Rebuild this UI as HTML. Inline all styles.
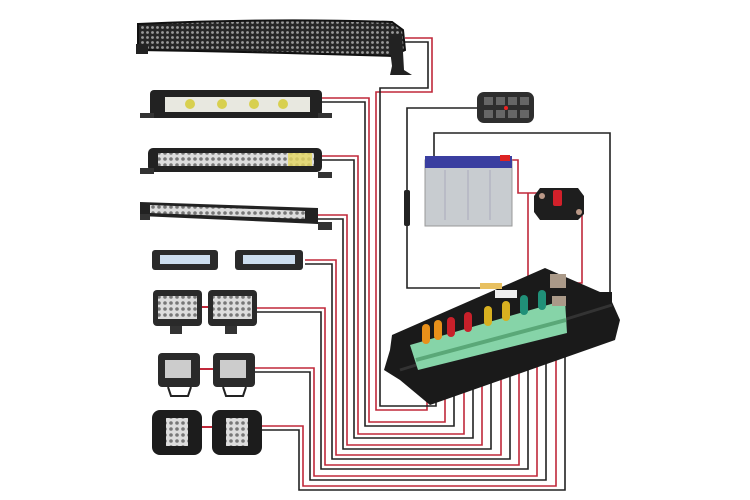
<!DOCTYPE html>
<html><head><meta charset="utf-8"><style>html,body{margin:0;padding:0;background:#fff}svg{display:block}</style></head>
<body>
<svg width="750" height="500" viewBox="0 0 750 500" xmlns="http://www.w3.org/2000/svg">
<defs>
<pattern id="led" width="5" height="5" patternUnits="userSpaceOnUse"><rect width="5" height="5" fill="#262626"/><circle cx="2.5" cy="2.5" r="1.4" fill="#9a9a9a"/></pattern>
<pattern id="led2" width="6" height="6" patternUnits="userSpaceOnUse"><rect width="6" height="6" fill="#ddd"/><circle cx="3" cy="3" r="1.8" fill="#777"/></pattern>
</defs>
<g fill="none" stroke-width="1.6">
<path d="M405 38 H432 V92 H376 V410 H427 V366" stroke="#c0283a"/>
<path d="M405 42 H428 V88 H380 V406 H436 V364" stroke="#222"/>
<path d="M322 98 H369 V422 H445 V362" stroke="#c0283a"/>
<path d="M322 102 H365 V426 H454 V360" stroke="#222"/>
<path d="M320 156 H358 V434 H464 V357" stroke="#c0283a"/>
<path d="M320 160 H354 V438 H473 V355" stroke="#222"/>
<path d="M318 215 H347 V445 H482 V353" stroke="#c0283a"/>
<path d="M318 219 H343 V449 H491 V351" stroke="#222"/>
<path d="M305 260 H336 V455 H501 V349" stroke="#c0283a"/>
<path d="M305 264 H332 V459 H510 V346" stroke="#222"/>
<path d="M257 308 H325 V465 H519 V344" stroke="#c0283a"/>
<path d="M257 312 H321 V469 H528 V342" stroke="#222"/>
<path d="M255 368 H314 V476 H537 V340" stroke="#c0283a"/>
<path d="M255 372 H310 V480 H546 V338" stroke="#222"/>
<path d="M262 426 H303 V486 H556 V335" stroke="#c0283a"/>
<path d="M262 430 H299 V490 H565 V333" stroke="#222"/>
<path d="M202 307 H208 M200 369 H213 M202 427 H212" stroke="#c0283a" stroke-width="2"/>
<path d="M477 108 H407 V288 H482" stroke="#222"/>
<path d="M434 156 V133 H610 V297 H572" stroke="#222"/>
<path d="M506 160 H518 V193 H540" stroke="#c0283a"/>
<path d="M528 193 V290 H520" stroke="#c0283a"/>
<path d="M582 213 V283 H565" stroke="#c0283a"/>
</g>
<rect x="404" y="190" width="6" height="36" rx="2" fill="#222"/>
<path d="M138 24 Q270 18 392 22 L403 30 L405 50 L392 56 Q270 52 138 50 Z" fill="url(#led)" stroke="#111" stroke-width="2"/>
<rect x="136" y="44" width="12" height="10" fill="#222"/>
<path d="M388 34 L402 34 L404 70 L412 75 L390 75 L392 66 Z" fill="#222"/>
<rect x="150" y="90" width="172" height="28" rx="4" fill="#222"/>
<rect x="165" y="97" width="145" height="15" fill="#e8e8e0"/>
<g fill="#d8d050"><circle cx="190" cy="104" r="5"/><circle cx="222" cy="104" r="5"/><circle cx="254" cy="104" r="5"/><circle cx="283" cy="104" r="5"/></g>
<rect x="140" y="113" width="14" height="5" fill="#333"/><rect x="318" y="113" width="14" height="5" fill="#333"/>
<rect x="148" y="148" width="174" height="24" rx="5" fill="#222"/>
<rect x="158" y="153" width="156" height="13" fill="url(#led2)"/>
<rect x="288" y="153" width="24" height="13" fill="#e6d860" opacity=".8"/>
<rect x="140" y="168" width="14" height="6" fill="#333"/><rect x="318" y="172" width="14" height="6" fill="#333"/>
<path d="M140 202 L318 208 L318 224 L140 216 Z" fill="#222"/>
<path d="M150 205 L305 211 L305 219 L150 213 Z" fill="url(#led2)"/>
<rect x="318" y="222" width="14" height="8" fill="#333"/><rect x="140" y="214" width="10" height="6" fill="#333"/>
<rect x="152" y="250" width="66" height="20" rx="3" fill="#2a2a2a"/><rect x="160" y="255" width="50" height="9" fill="#cde"/>
<rect x="235" y="250" width="68" height="20" rx="3" fill="#2a2a2a"/><rect x="243" y="255" width="52" height="9" fill="#cde"/>
<rect x="153" y="290" width="49" height="36" rx="4" fill="#2a2a2a"/><rect x="158" y="296" width="39" height="23" fill="url(#led2)"/>
<rect x="208" y="290" width="49" height="36" rx="4" fill="#2a2a2a"/><rect x="213" y="296" width="39" height="23" fill="url(#led2)"/>
<rect x="170" y="326" width="12" height="8" fill="#333"/><rect x="225" y="326" width="12" height="8" fill="#333"/>
<rect x="158" y="353" width="42" height="34" rx="4" fill="#2a2a2a"/><rect x="165" y="360" width="26" height="18" fill="#ccc"/>
<rect x="213" y="353" width="42" height="34" rx="4" fill="#2a2a2a"/><rect x="220" y="360" width="26" height="18" fill="#ccc"/>
<path d="M168 387 L171 396 H188 L191 387" stroke="#222" stroke-width="2" fill="none"/><path d="M223 387 L226 396 H243 L246 387" stroke="#222" stroke-width="2" fill="none"/>
<rect x="152" y="410" width="50" height="45" rx="8" fill="#1c1c1c"/><rect x="166" y="418" width="22" height="28" fill="url(#led2)"/>
<rect x="212" y="410" width="50" height="45" rx="8" fill="#1c1c1c"/><rect x="226" y="418" width="22" height="28" fill="url(#led2)"/>
<rect x="477" y="92" width="57" height="31" rx="7" fill="#2e2e2e"/>
<g fill="#666"><rect x="484" y="97" width="9" height="8"/><rect x="496" y="97" width="9" height="8"/><rect x="508" y="97" width="9" height="8"/><rect x="520" y="97" width="9" height="8"/><rect x="484" y="110" width="9" height="8"/><rect x="496" y="110" width="9" height="8"/><rect x="508" y="110" width="9" height="8"/><rect x="520" y="110" width="9" height="8"/></g>
<circle cx="506" cy="108" r="2" fill="#e22"/>
<rect x="425" y="160" width="87" height="66" fill="#c8ccd0" stroke="#999"/>
<rect x="425" y="156" width="87" height="12" fill="#3a3ea0"/>
<rect x="500" y="155" width="10" height="6" fill="#d22"/>
<g stroke="#aab" stroke-width="1"><path d="M445 170 V220 M468 170 V220 M490 170 V220"/></g>
<path d="M540 188 H578 L584 196 V214 L578 220 H540 L534 212 V196 Z" fill="#1e1e1e"/>
<rect x="553" y="190" width="9" height="16" rx="2" fill="#d2202a"/>
<circle cx="542" cy="196" r="3" fill="#b98"/><circle cx="579" cy="212" r="3" fill="#b98"/>
<path d="M392 335 L545 268 L600 292 L612 292 L612 302 L620 320 L615 340 L430 405 L400 380 L384 370 L390 350 Z" fill="#1a1a1a"/>
<path d="M400 370 L612 305" stroke="#333" stroke-width="3"/>
<path d="M410 345 L565 300 L567 333 L418 370 Z" fill="#86d4a8"/>
<path d="M416 360 L566 320" stroke="#5aa878" stroke-width="4"/>
<g stroke-width="8" stroke-linecap="round">
<path d="M426 340 V328" stroke="#e8901a"/><path d="M438 336 V324" stroke="#e8901a"/>
<path d="M451 333 V321" stroke="#c8202a"/><path d="M468 328 V316" stroke="#c8202a"/>
<path d="M488 322 V310" stroke="#d8b020"/><path d="M506 317 V305" stroke="#d8b020"/>
<path d="M524 311 V299" stroke="#209078"/><path d="M542 306 V294" stroke="#209078"/>
</g>
<rect x="550" y="274" width="16" height="14" fill="#a98"/><rect x="552" y="296" width="14" height="10" fill="#a98"/>
<rect x="480" y="283" width="22" height="6" fill="#e8c060"/>
<rect x="495" y="290" width="22" height="8" fill="#eee"/>
</svg>
</body></html>
